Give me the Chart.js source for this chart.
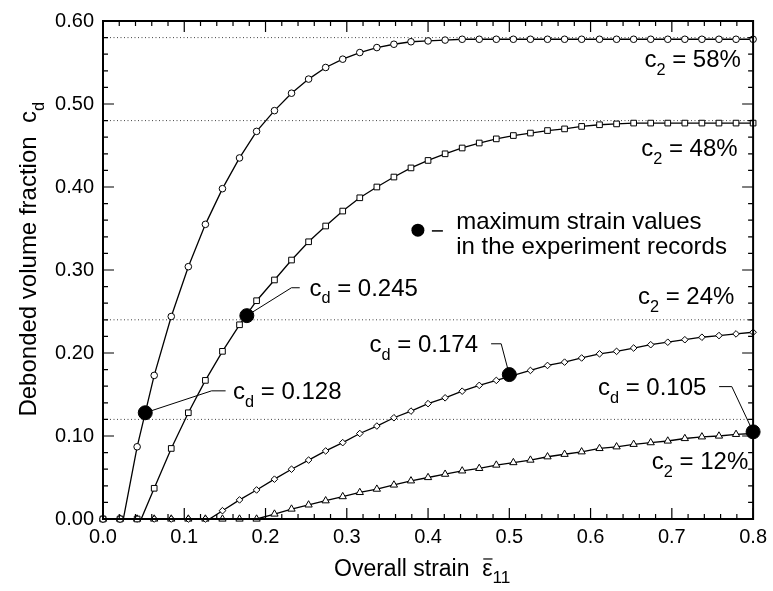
<!DOCTYPE html>
<html lang="en">
<head>
<meta charset="UTF-8">
<title>Debonded volume fraction vs overall strain</title>
<script src="https://cdn.jsdelivr.net/npm/chart.js@4"></script>
<style>
  body { margin: 0; background: #fff; }
  #wrap { width: 773px; height: 591px; }
</style>
</head>
<body>
<div id="wrap"><canvas id="chart"></canvas></div>
<script>
// overall strain at every computed point (39 points from 0 to 0.8)
var strain = [0.000, 0.021, 0.042, 0.063, 0.084, 0.105, 0.126, 0.147, 0.168, 0.189,
              0.211, 0.232, 0.253, 0.274, 0.295, 0.316, 0.337, 0.358, 0.379, 0.400,
              0.421, 0.442, 0.463, 0.484, 0.505, 0.526, 0.547, 0.568, 0.589, 0.611,
              0.632, 0.653, 0.674, 0.695, 0.716, 0.737, 0.758, 0.779, 0.800];

// debonded volume fraction c_d for each particle content c2
var cd58 = [0, 0, 0.087, 0.173, 0.244, 0.304, 0.355, 0.398, 0.435, 0.467,
            0.492, 0.513, 0.530, 0.544, 0.554, 0.562, 0.568, 0.572, 0.575, 0.576,
            0.577, 0.578, 0.578, 0.578, 0.578, 0.578, 0.578, 0.578, 0.578, 0.578,
            0.578, 0.578, 0.578, 0.578, 0.578, 0.578, 0.578, 0.578, 0.578];
var cd48 = [0, 0, 0, 0.037, 0.085, 0.128, 0.167, 0.202, 0.234, 0.263,
            0.288, 0.312, 0.334, 0.353, 0.371, 0.387, 0.400, 0.412, 0.423, 0.432,
            0.440, 0.447, 0.453, 0.458, 0.462, 0.465, 0.468, 0.470, 0.473, 0.475,
            0.476, 0.477, 0.477, 0.477, 0.477, 0.477, 0.477, 0.477, 0.477];
var cd24 = [0, 0, 0, 0, 0, 0, 0, 0.010, 0.023, 0.035,
            0.048, 0.060, 0.071, 0.082, 0.092, 0.103, 0.112, 0.122, 0.130, 0.139,
            0.146, 0.154, 0.161, 0.167, 0.173, 0.179, 0.185, 0.189, 0.194, 0.199,
            0.202, 0.206, 0.210, 0.213, 0.216, 0.219, 0.221, 0.223, 0.225];
var cd12 = [0, 0, 0, 0, 0, 0, 0, 0, 0, 0,
            0.006, 0.012, 0.017, 0.022, 0.027, 0.032, 0.036, 0.041, 0.046, 0.050,
            0.054, 0.058, 0.061, 0.065, 0.068, 0.071, 0.075, 0.078, 0.081, 0.085,
            0.087, 0.090, 0.092, 0.094, 0.097, 0.099, 0.100, 0.102, 0.103];

// strain where a curve leaves zero between two markers (null = at a marker)
var onset = [0.025, 0.047, 0.131, null];

// asymptotes c_d = c2
var c2Levels = [0.58, 0.48, 0.24, 0.12];
var c2Labels = ['58%', '48%', '24%', '12%'];

// maximum strain values in the experiment records
var recordStrain = [0.052, 0.177, 0.500, 0.800];
var recordCd = [0.128, 0.245, 0.174, 0.105];

var xTicks = [0, 0.1, 0.2, 0.3, 0.4, 0.5, 0.6, 0.7, 0.8];
var yTicks = [0, 0.1, 0.2, 0.3, 0.4, 0.5, 0.6];

var FONT = '"Liberation Sans", Arial, Helvetica, sans-serif';
Chart.defaults.font.family = FONT;
Chart.defaults.color = '#000';

var series = [cd58, cd48, cd24, cd12];
var styles = ['circle', 'rect', 'rectRot', 'triangle'];
var radii = [3.3, 4, 3.3, 4.2];

var datasets = [];

// black dots for the experiment records
datasets.push({
    data: recordStrain.map(function (x, i) { return {x: x, y: recordCd[i]}; }),
    showLine: false, pointStyle: 'circle', pointRadius: 7,
    pointBackgroundColor: '#000', pointBorderColor: '#000', clip: false, order: 0
});

series.forEach(function (ys, k) {
    var pts = strain.map(function (x, i) { return {x: x, y: ys[i]}; });
    // open markers
    datasets.push({
        data: pts, showLine: false, pointStyle: styles[k], pointRadius: radii[k],
        pointBackgroundColor: '#fff', pointBorderColor: '#000', pointBorderWidth: 1,
        clip: false, order: 1
    });
    // solid curve (adds the point where it leaves zero)
    var linePts = pts.slice();
    if (onset[k] !== null) {
        linePts.push({x: onset[k], y: 0});
        linePts.sort(function (a, b) { return a.x - b.x; });
    }
    datasets.push({
        data: linePts, showLine: true, pointRadius: 0, borderColor: '#000',
        borderWidth: 1.3, tension: 0, clip: false, order: 2
    });
});

// dotted asymptote lines
c2Levels.forEach(function (lvl) {
    datasets.push({
        data: [{x: 0, y: lvl}, {x: 0.8, y: lvl}], showLine: true, pointRadius: 0,
        borderColor: '#444', borderWidth: 1, borderDash: [1, 2.5], order: 3
    });
});

function drawParts(ctx, parts, x, y, size, align, subScale) {
    var ss = subScale || 0.68;
    var total = 0;
    parts.forEach(function (p) {
        ctx.font = (p.sub ? size * ss : size) + 'px ' + FONT;
        p.w = ctx.measureText(p.t).width;
        total += p.w;
    });
    var cx = align === 'right' ? x - total : (align === 'center' ? x - total / 2 : x);
    ctx.textAlign = 'left';
    ctx.textBaseline = 'alphabetic';
    parts.forEach(function (p) {
        ctx.font = (p.sub ? size * ss : size) + 'px ' + FONT;
        ctx.fillText(p.t, cx, y + (p.sub ? size * 0.32 : 0));
        if (p.bar) {
            ctx.beginPath();
            ctx.lineWidth = 1.2;
            ctx.moveTo(cx + 1, y - size * 0.74);
            ctx.lineTo(cx + p.w, y - size * 0.74);
            ctx.stroke();
        }
        cx += p.w;
    });
}

var decor = {
    id: 'decor',
    afterDraw: function (chart) {
        var ctx = chart.ctx, a = chart.chartArea;
        var xs = chart.scales.x, ys = chart.scales.y;
        var X = function (v) { return xs.getPixelForValue(v); };
        var Y = function (v) { return ys.getPixelForValue(v); };
        ctx.save();
        ctx.strokeStyle = '#000';
        ctx.fillStyle = '#000';

        // inward ticks on all four sides
        ctx.lineWidth = 1.2;
        var i, p, len;
        for (i = 0; i <= 40; i++) {
            p = X(i * 0.02); len = i % 5 === 0 ? 11 : 5;
            ctx.beginPath();
            ctx.moveTo(p, a.bottom); ctx.lineTo(p, a.bottom - len);
            ctx.moveTo(p, a.top); ctx.lineTo(p, a.top + len);
            ctx.stroke();
        }
        for (i = 0; i <= 30; i++) {
            p = Y(i * 0.02); len = i % 5 === 0 ? 11 : 5;
            ctx.beginPath();
            ctx.moveTo(a.left, p); ctx.lineTo(a.left + len, p);
            ctx.moveTo(a.right, p); ctx.lineTo(a.right - len, p);
            ctx.stroke();
        }
        // frame
        ctx.lineWidth = 2;
        ctx.strokeRect(a.left, a.top, a.right - a.left, a.bottom - a.top);

        // leader lines to the record dots
        ctx.lineWidth = 1;
        var leaders = [
            [[recordStrain[0], recordCd[0]], [0.1336, 0.1544], [0.1509, 0.1544]],
            [[recordStrain[1], recordCd[1]], [0.2319, 0.2786], [0.2421, 0.2786]],
            [[0.4776, 0.2111], [0.490, 0.2111], [recordStrain[2], recordCd[2]]],
            [[0.7582, 0.1595], [0.7738, 0.1595], [recordStrain[3], recordCd[3]]]
        ];
        leaders.forEach(function (L) {
            ctx.beginPath();
            ctx.moveTo(X(L[0][0]), Y(L[0][1]));
            ctx.lineTo(X(L[1][0]), Y(L[1][1]));
            ctx.lineTo(X(L[2][0]), Y(L[2][1]));
            ctx.stroke();
        });

        // c_d labels
        var cdPos = [[0.160, 0.144], [0.254, 0.269], [0.328, 0.201], [0.609, 0.149]];
        cdPos.forEach(function (q, k) {
            drawParts(ctx, [{t: 'c'}, {t: 'd', sub: true}, {t: ' = ' + recordCd[k].toFixed(3)}],
                X(q[0]), Y(q[1]), 24, 'left');
        });

        // c2 labels
        var c2Pos = [[0.785, 0.544], [0.781, 0.437], [0.777, 0.259], [0.794, 0.060]];
        c2Pos.forEach(function (q, k) {
            drawParts(ctx, [{t: 'c'}, {t: '2', sub: true}, {t: ' = ' + c2Labels[k]}],
                X(q[0]), Y(q[1]), 24, 'right');
        });

        // key for the black dots
        ctx.beginPath();
        ctx.arc(X(0.3875), Y(0.348), 6.5, 0, Math.PI * 2);
        ctx.fill();
        ctx.fillRect(X(0.3875) + 14, Y(0.348), 11, 1.5);
        drawParts(ctx, [{t: 'maximum strain values'}], X(0.4346), Y(0.350), 24, 'left');
        drawParts(ctx, [{t: 'in the experiment records'}], X(0.4346), Y(0.3194), 24, 'left');

        // axis titles
        drawParts(ctx, [{t: 'Overall strain  '}, {t: '\u03b5', bar: true}, {t: '11', sub: true}],
            334, 576, 23, 'left', 0.75);
        ctx.translate(36, 102);
        ctx.rotate(-Math.PI / 2);
        drawParts(ctx, [{t: 'Debonded volume fraction  c'}, {t: 'd', sub: true}], 0, 0, 24, 'right');
        ctx.restore();
    }
};

new Chart(document.getElementById('chart'), {
    type: 'scatter',
    data: {datasets: datasets},
    options: {
        responsive: true,
        maintainAspectRatio: false,
        animation: false,
        layout: {padding: {top: 14, right: 19, left: 0, bottom: 0}},
        plugins: {legend: {display: false}, tooltip: {enabled: false}},
        scales: {
            x: {
                type: 'linear', min: 0, max: 0.8,
                afterFit: function (s) { s.height = 72; },
                afterBuildTicks: function (s) { s.ticks = xTicks.map(function (v) { return {value: v}; }); },
                grid: {display: false, drawTicks: false},
                border: {display: false},
                ticks: {padding: 6, font: {size: 20}, color: '#000',
                        callback: function (v) { return v.toFixed(1); }}
            },
            y: {
                type: 'linear', min: 0, max: 0.6,
                afterFit: function (s) { s.width = 103; },
                afterBuildTicks: function (s) { s.ticks = yTicks.map(function (v) { return {value: v}; }); },
                grid: {display: false, drawTicks: false},
                border: {display: false},
                ticks: {padding: 9, font: {size: 20}, color: '#000',
                        callback: function (v) { return v.toFixed(2); }}
            }
        }
    },
    plugins: [decor]
});
</script>
</body>
</html>
